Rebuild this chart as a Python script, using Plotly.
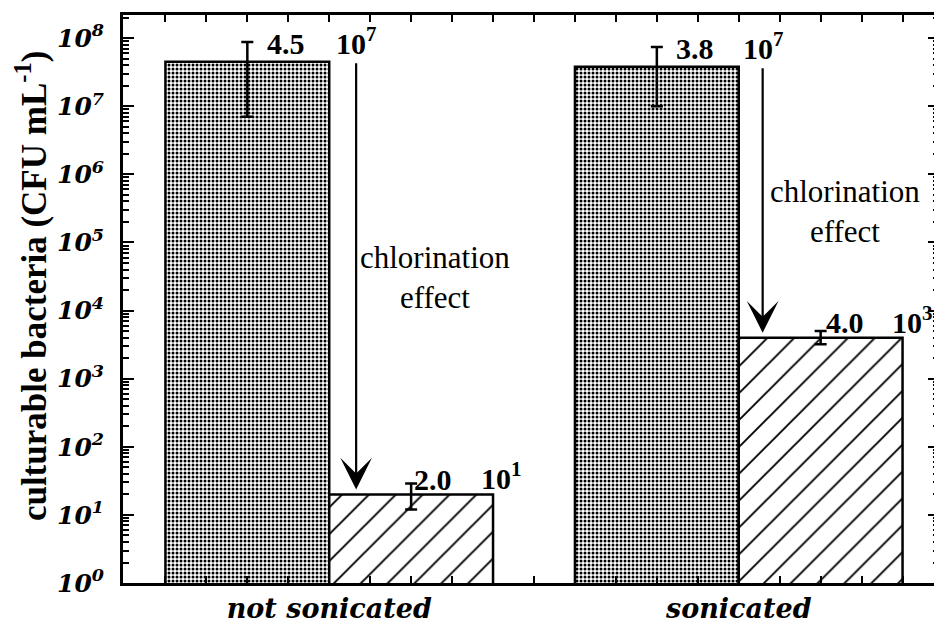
import math
import plotly.graph_objects as go

# ---- data -------------------------------------------------------------
groups = ["not sonicated", "sonicated"]
before = [4.5e7, 3.8e7]            # before chlorination
before_err_plus = [4.3e7, 3.6e7]
before_err_minus = [3.8e7, 2.8e7]
after = [2.0e1, 4.0e3]             # after chlorination
after_err_plus = [9.0, 1.0e3]
after_err_minus = [8.0, 0.8e3]
y_tick_exponents = list(range(0, 9))
arrow_text = "chlorination<br>effect"

# ---- style / layout constants ----------------------------------------
SERIF = "Liberation Serif, Times New Roman, serif"
WIDE_SERIF = "DejaVu Serif, serif"
# page body has an 8px margin: figure is shifted by 8px
W, H = 934, 624
L, R, T, B = 115, 0, 7, 49
XRANGE = [-0.5036, 1.489]
YRANGE = [0, 8.34]

xpos = list(range(len(groups)))

fig = go.Figure()
fig.add_trace(go.Bar(
    x=xpos, y=before, name="before",
    marker=dict(color="white", line=dict(color="black", width=2.5),
                pattern=dict(shape=".", size=4, solidity=0.45,
                             fgcolor="black", bgcolor="white", fgopacity=1)),
    error_y=dict(type="data", symmetric=False, array=before_err_plus,
                 arrayminus=before_err_minus, color="black",
                 thickness=2.5, width=6),
))
fig.add_trace(go.Bar(
    x=xpos, y=after, name="after",
    marker=dict(color="white", line=dict(color="black", width=2.5),
                pattern=dict(shape="/", size=19, solidity=0.1,
                             fgcolor="black", bgcolor="white", fgopacity=1)),
    error_y=dict(type="data", symmetric=False, array=after_err_plus,
                 arrayminus=after_err_minus, color="black",
                 thickness=2.5, width=6),
))

# label positions (x, in axis units)
mant_x_before = [-0.1046, 0.893]
exp_x_before = [0.0122, 1.0049]
mant_x_after = [0.2531, 1.2604]
exp_x_after = [0.365, 1.3699]
arrow_x = [0.0657, 1.0584]
text_xy = [(0.258, 4.48), (1.2604, 5.45)]

ann = []

def split(v):
    e = math.floor(math.log10(v))
    return f"{v / 10 ** e:.1f}", f"10<sup>{e}</sup>"

bold30 = dict(family=SERIF, size=30, color="black", weight="bold")
for i in range(len(groups)):
    for vals, mx, ex, ys in ((before, mant_x_before, exp_x_before, 18),
                             (after, mant_x_after, exp_x_after, 15)):
        m, e = split(vals[i])
        ly = math.log10(vals[i])
        ann.append(dict(x=mx[i], y=ly, xref="x", yref="y", text=m,
                        showarrow=False, xanchor="center", yanchor="middle",
                        yshift=ys, font=bold30))
        ann.append(dict(x=ex[i], y=ly, xref="x", yref="y", text=e,
                        showarrow=False, xanchor="left", yanchor="middle",
                        yshift=ys + 3, font=bold30))
    # chlorination arrow: from top of "before" bar to top of "after" bar
    ann.append(dict(x=arrow_x[i], y=math.log10(after[i]),
                    ax=arrow_x[i], ay=math.log10(before[i]),
                    xref="x", yref="y", axref="x", ayref="y",
                    text="", showarrow=True, arrowhead=3, arrowsize=2.4,
                    arrowwidth=2.2, arrowcolor="black", standoff=5))
    ann.append(dict(x=text_xy[i][0], y=text_xy[i][1], xref="x", yref="y",
                    text=arrow_text, showarrow=False, align="center",
                    font=dict(family=SERIF, size=31, color="black")))

# y-axis title
ann.append(dict(x=-0.112, y=0.522, xref="paper", yref="paper",
                xanchor="center", yanchor="middle",
                text="culturable bacteria (CFU mL<sup>-1</sup>)",
                textangle=-90, showarrow=False,
                font=dict(family=SERIF, size=35, color="black", weight="bold")))

minor_x = [round(-0.4 + 0.1 * k, 2) for k in range(19)]
minor_x = [v for v in minor_x if abs(v - round(v)) > 1e-9]

fig.update_layout(
    width=W, height=H,
    margin=dict(l=L, r=R, t=T, b=B),
    paper_bgcolor="white", plot_bgcolor="white",
    barmode="group", bargap=0.2, bargroupgap=0,
    showlegend=False,
    annotations=ann,
    xaxis=dict(range=XRANGE, tickvals=xpos, ticktext=groups,
               ticks="inside", ticklen=7, tickwidth=2, tickcolor="black",
               minor=dict(tickvals=minor_x, ticks="inside", ticklen=7,
                          tickwidth=2, tickcolor="black", showgrid=False),
               showline=True, linewidth=3, linecolor="black",
               mirror="allticks", showgrid=False, zeroline=False,
               ticklabelstandoff=0,
               tickfont=dict(family=WIDE_SERIF, size=27, color="black",
                             weight="bold", style="italic")),
    yaxis=dict(type="log", range=YRANGE,
               tickvals=[10 ** k for k in y_tick_exponents],
               ticktext=[f"10<sup>{k}</sup>" for k in y_tick_exponents],
               ticks="inside", ticklen=11, tickwidth=2, tickcolor="black",
               minor=dict(ticks="inside", ticklen=6, tickwidth=1.5,
                          tickcolor="black", dtick="D1", showgrid=False),
               showline=True, linewidth=3, linecolor="black",
               mirror="allticks", showgrid=False, zeroline=False,
               ticklabelstandoff=11,
               tickfont=dict(family=WIDE_SERIF, size=25, color="black",
                             weight="bold", style="italic")),
)

fig.write_html("out.html")
